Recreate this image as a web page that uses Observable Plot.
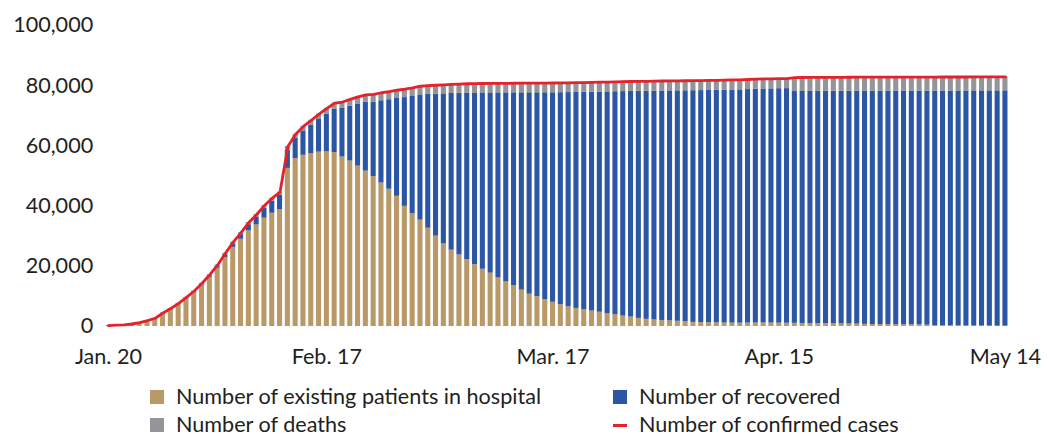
<!DOCTYPE html>
<html><head><meta charset="utf-8">
<script src="https://cdn.jsdelivr.net/npm/d3@7"></script>
<script src="https://cdn.jsdelivr.net/npm/@observablehq/plot@0.6"></script>
<style>
html,body{margin:0;background:#fff;font-family:Lato,sans-serif;color:#231f20;overflow:hidden}
#legend{position:relative;height:60px;width:1048px;font-size:21.6px;line-height:1}
.item{position:absolute;display:flex;align-items:center;white-space:nowrap;height:24px}
.sw{width:14px;height:14px;margin-right:12px}
.dash{width:14px;height:3px;margin-right:12px}
</style></head><body><div id="chart"></div><div id="legend"></div>
<script>
const startDate = "2020-01-20";
const confirmed = [291,440,571,830,1287,1975,2744,4515,5974,7711,9692,11791,
14380,17205,20438,24324,28018,31161,34546,37198,40171,42638,44653,59804,63851,66492,68500,70548,72436,74185,74576,75465,76288,76936,77150,77658,78064,78497,78824,79251,79824,
80026,80151,80270,80409,80552,80651,80695,80735,80754,80778,80793,80813,80824,80844,80860,80881,80894,80928,80967,81008,81054,81093,81171,81218,81285,81340,81394,81439,81470,81518,81554,
81589,81620,81639,81669,81708,81740,81802,81865,81907,81953,82052,82160,82249,82295,82341,82367,82692,82719,82735,82747,82758,82788,82798,82804,82816,82827,82830,82836,82858,82862,
82874,82875,82877,82880,82881,82883,82885,82886,82887,82901,82918,82919,82926,82929];
const deaths = [6,9,17,25,41,56,80,106,132,170,213,259,
304,361,425,490,563,636,722,811,908,1016,1113,1367,1380,1523,1665,1770,1868,2004,2118,2236,2345,2442,2592,2663,2715,2744,2788,2835,2870,
2912,2943,2981,3012,3042,3070,3097,3119,3136,3158,3169,3176,3189,3199,3213,3226,3237,3245,3248,3255,3261,3270,3277,3281,3287,3292,3295,3300,3304,3305,3312,
3318,3322,3326,3329,3331,3331,3333,3335,3336,3339,3339,3341,3341,3341,3342,3342,4632,4632,4632,4632,4632,4632,4632,4632,4632,4632,4632,4632,4632,4632,
4632,4632,4632,4632,4632,4632,4632,4632,4632,4632,4632,4632,4632,4633];
const recovered = [25,25,28,34,38,49,51,60,103,124,171,243,
328,475,632,892,1153,1540,2050,2649,3281,3996,4740,5911,6723,8096,9419,10844,12552,14376,16155,18264,20659,22888,24734,27323,29745,32495,36117,39002,41625,
44462,47204,49856,52045,53726,55404,57065,58600,59897,61475,62793,64111,65541,66911,67749,68679,69601,70420,71150,71740,72244,72703,73159,73650,74051,74588,74971,75448,75790,76052,76238,
76408,76571,76751,76964,77078,77167,77279,77370,77455,77525,77575,77663,77738,77816,77892,77944,77002,77077,77103,77135,77166,77216,77326,77342,77384,77475,77548,77554,77586,77610,
77642,77673,77715,77798,77949,78001,78033,78054,78075,78109,78136,78157,78184,78196];
const hospital = [260,406,526,771,1208,1870,2613,4349,5739,7417,9308,11289,
13748,16369,19381,22942,26302,28985,31774,33738,35982,37626,38800,52526,55748,56873,57416,57934,58016,57805,56303,54965,53284,51606,49824,47672,45604,43258,39919,37414,35329,
32652,30004,27433,25352,23784,22177,20533,19016,17721,16145,14831,13526,12094,10734,9898,8976,8056,7263,6569,6013,5549,5120,4735,4287,3947,3460,3128,2691,2376,2161,2004,
1863,1727,1562,1376,1299,1242,1190,1160,1116,1089,1138,1156,1170,1138,1107,1081,1058,1010,1000,980,960,940,840,830,800,720,650,650,640,620,
600,570,530,450,300,250,220,200,180,160,150,130,110,100];
const seriesNames = ["Number of existing patients in hospital","Number of recovered","Number of deaths","Number of confirmed cases"];
const colors = ["#b99967","#2b56a5","#939598","#e3222b"];
const xTickDates = ["2020-01-20","2020-02-17","2020-03-17","2020-04-15","2020-05-14"];
const xTickLabels = ["Jan. 20","Feb. 17","Mar. 17","Apr. 15","May 14"];
const yTicks = [0,20000,40000,60000,80000,100000];

const start = new Date(startDate + "T00:00:00Z");
const dates = d3.utcDay.range(start, d3.utcDay.offset(start, confirmed.length)).map(d => d.toISOString().slice(0,10));
const stacked = [];
dates.forEach((d,i) => {
  stacked.push({date:d, series:seriesNames[0], value:hospital[i]});
  stacked.push({date:d, series:seriesNames[1], value:recovered[i]});
  stacked.push({date:d, series:seriesNames[2], value:deaths[i]});
});
const lineData = dates.map((d,i) => ({date:d, value:confirmed[i]}));

const chart = Plot.plot({
  width:1048, height:376,
  marginLeft:102.7, marginRight:37.8, marginTop:25, marginBottom:50,
  style:{fontFamily:"Lato, sans-serif", fontSize:"21.6px", color:"#231f20", background:"#fff", overflow:"visible"},
  x:{type:"band", domain:dates, padding:0.35, round:false, ticks:xTickDates,
     tickFormat:d => xTickLabels[xTickDates.indexOf(d)], tickSize:0, tickPadding:22, label:null},
  y:{domain:[0,100000], ticks:yTicks, tickFormat:d3.format(","), tickSize:0, tickPadding:10, label:null},
  color:{domain:seriesNames.slice(0,3), range:colors.slice(0,3)},
  marks:[
    Plot.barY(stacked, {x:"date", y:"value", fill:"series"}),
    Plot.line(lineData, {x:"date", y:"value", stroke:colors[3], strokeWidth:2.8})
  ]
});
chart.style.display = "block";
document.getElementById("chart").appendChild(chart);

const legendItems = [
  {i:0, left:150, top:9, type:"sw"},
  {i:1, left:613, top:9, type:"sw"},
  {i:2, left:150, top:37, type:"sw"},
  {i:3, left:613, top:37, type:"dash"}
];
const leg = document.getElementById("legend");
legendItems.forEach(it => {
  const div = document.createElement("div");
  div.className = "item";
  div.style.left = it.left + "px";
  div.style.top = it.top + "px";
  const s = document.createElement("span");
  s.className = it.type;
  s.style.background = colors[it.i];
  div.appendChild(s);
  const t = document.createElement("span");
  t.textContent = seriesNames[it.i];
  div.appendChild(t);
  leg.appendChild(div);
});
</script></body></html>
